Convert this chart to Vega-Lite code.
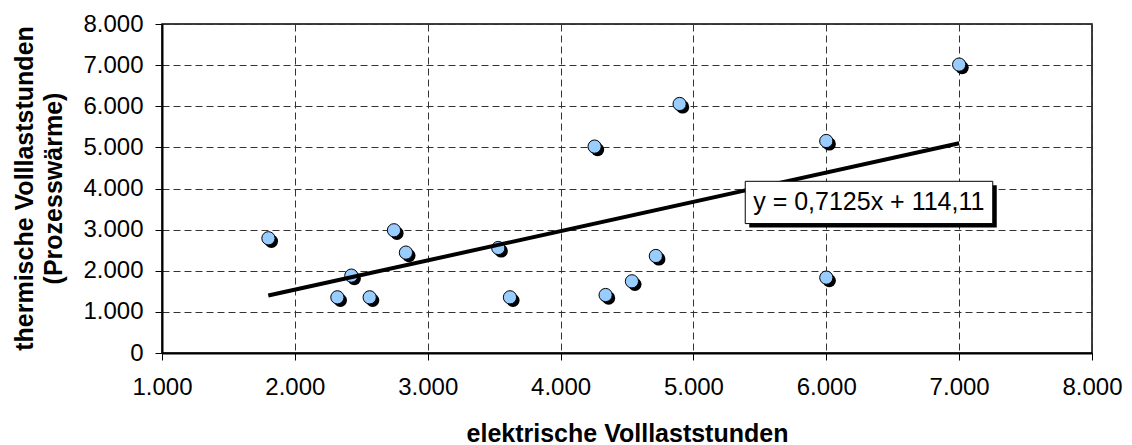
{
  "$schema": "https://vega.github.io/schema/vega-lite/v6.json",
  "width": 930,
  "height": 329,
  "autosize": "none",
  "padding": {"left": 162, "top": 24, "right": 40, "bottom": 92},
  "background": "white",
  "config": {
    "locale": {"number": {"decimal": ",", "thousands": ".", "grouping": [3], "currency": ["", " €"]}},
    "view": {"stroke": "black", "strokeWidth": 1.5},
    "font": "Liberation Sans"
  },
  "datasets": {
    "points": [
      {"el": 1801, "th": 2790},
      {"el": 2320, "th": 1354},
      {"el": 2425, "th": 1882},
      {"el": 2563, "th": 1354},
      {"el": 2746, "th": 2984},
      {"el": 2836, "th": 2441},
      {"el": 3531, "th": 2553},
      {"el": 3619, "th": 1354},
      {"el": 4256, "th": 5019},
      {"el": 4339, "th": 1410},
      {"el": 4537, "th": 1743},
      {"el": 4717, "th": 2359},
      {"el": 4896, "th": 6055},
      {"el": 6000, "th": 5155},
      {"el": 6000, "th": 1833},
      {"el": 7000, "th": 7013}
    ],
    "trend": [
      {"el": 1800, "th": 1396.6},
      {"el": 7000, "th": 5101.6}
    ]
  },
  "layer": [
    {
      "data": {"name": "points"},
      "mark": {"type": "circle", "size": 175, "color": "black", "opacity": 1, "xOffset": 3, "yOffset": 3},
      "encoding": {
        "x": {
          "field": "el", "type": "quantitative",
          "scale": {"domain": [1000, 8000], "nice": false, "zero": false},
          "axis": {
            "title": "elektrische Volllaststunden",
            "values": [1000, 2000, 3000, 4000, 5000, 6000, 7000, 8000],
            "format": ",d",
            "labelFontSize": 24, "labelColor": "black", "labelPadding": 15, "labelFlush": false,
            "tickSize": 7, "tickColor": "black", "tickWidth": 1,
            "domainColor": "black", "domainWidth": 2,
            "grid": true, "gridColor": "#333333", "gridDash": [7, 4], "gridWidth": 1, "gridOpacity": 1,
            "titleFontSize": 25, "titleFontWeight": "bold", "titleColor": "black",
            "titleY": 88, "titleBaseline": "alphabetic"
          }
        },
        "y": {
          "field": "th", "type": "quantitative",
          "scale": {"domain": [0, 8000], "nice": false},
          "axis": {
            "title": ["thermische Volllaststunden", "(Prozesswärme)"],
            "values": [0, 1000, 2000, 3000, 4000, 5000, 6000, 7000, 8000],
            "format": ",d",
            "labelFontSize": 24, "labelColor": "black", "labelPadding": 12,
            "tickSize": 7, "tickColor": "black", "tickWidth": 1,
            "domainColor": "black", "domainWidth": 2,
            "grid": true, "gridColor": "#333333", "gridDash": [7, 4], "gridWidth": 1, "gridOpacity": 1,
            "titleFontSize": 25, "titleFontWeight": "bold", "titleColor": "black",
            "titleX": -138, "titleY": 164, "titleAlign": "center", "titleBaseline": "middle",
            "titleAngle": -90, "titleLineHeight": 29
          }
        }
      }
    },
    {
      "data": {"name": "points"},
      "mark": {"type": "circle", "size": 175, "fill": "#99CCFF", "stroke": "black", "strokeWidth": 1, "opacity": 1},
      "encoding": {
        "x": {"field": "el", "type": "quantitative"},
        "y": {"field": "th", "type": "quantitative"}
      }
    },
    {
      "data": {"name": "trend"},
      "mark": {"type": "line", "color": "black", "strokeWidth": 4},
      "encoding": {
        "x": {"field": "el", "type": "quantitative"},
        "y": {"field": "th", "type": "quantitative"}
      }
    },
    {
      "data": {"values": [{}]},
      "mark": {"type": "rect", "color": "black", "opacity": 1, "xOffset": 4, "x2Offset": 4, "yOffset": 4, "y2Offset": 4},
      "encoding": {
        "x": {"datum": 5390}, "x2": {"datum": 7253},
        "y": {"datum": 4175}, "y2": {"datum": 3147}
      }
    },
    {
      "data": {"values": [{}]},
      "mark": {"type": "rect", "fill": "white", "stroke": "black", "strokeWidth": 1, "opacity": 1},
      "encoding": {
        "x": {"datum": 5390}, "x2": {"datum": 7253},
        "y": {"datum": 4175}, "y2": {"datum": 3147}
      }
    },
    {
      "data": {"values": [{}]},
      "mark": {"type": "text", "fontSize": 25, "align": "center", "baseline": "middle", "color": "black"},
      "encoding": {
        "x": {"datum": 6320}, "y": {"datum": 3670},
        "text": {"value": "y = 0,7125x + 114,11"}
      }
    }
  ]
}
